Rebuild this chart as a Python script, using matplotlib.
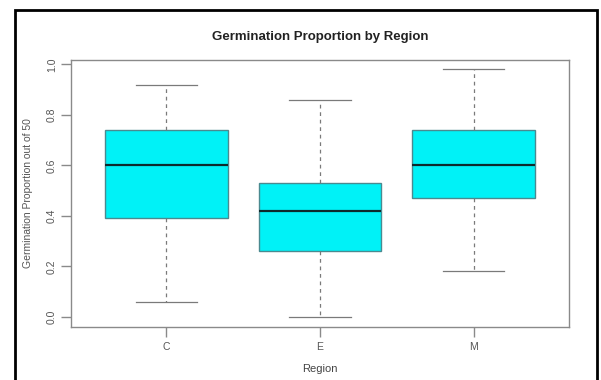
import matplotlib
matplotlib.use("Agg")
import matplotlib.pyplot as plt
from matplotlib.patches import Rectangle

plt.rcParams['font.family'] = ['Liberation Sans', 'DejaVu Sans']

regions = ["C", "E", "M"]
whisker_low = [0.06, 0.00, 0.18]
q1 = [0.39, 0.26, 0.47]
median = [0.60, 0.42, 0.60]
q3 = [0.74, 0.53, 0.74]
whisker_high = [0.92, 0.86, 0.98]
y_ticks = [0.0, 0.2, 0.4, 0.6, 0.8, 1.0]

W, H = 601, 380
fig = plt.figure(figsize=(W / 100, H / 100), dpi=100)
fig.patch.set_facecolor("white")

# outer frame around the figure
fig.patches.append(Rectangle((15 / W, -0.05), (597 - 15) / W, (H - 10) / H + 0.05,
                             transform=fig.transFigure, fill=False,
                             edgecolor="black", linewidth=2.0, zorder=10))

left, right, top, bottom = 71, 569, 59.5, 326.7
ax = fig.add_axes([left / W, (H - bottom) / H, (right - left) / W, (bottom - top) / H])

stats = []
for i, r in enumerate(regions):
    stats.append(dict(label=r, whislo=whisker_low[i], q1=q1[i], med=median[i],
                      q3=q3[i], whishi=whisker_high[i], fliers=[]))

edge = "#4a8a90"
grey = "#7a7a7a"
ax.bxp(stats, positions=[1, 2, 3], widths=0.8, patch_artist=True,
       showfliers=False,
       boxprops=dict(facecolor="#00f2f7", edgecolor=edge, linewidth=1.0),
       medianprops=dict(color="#0d2a2c", linewidth=1.6),
       whiskerprops=dict(color=grey, linewidth=0.9, linestyle=(0, (3, 3))),
       capprops=dict(color=grey, linewidth=0.9),
       capwidths=0.4)

lo, hi = min(whisker_low), max(whisker_high)
pad = (hi - lo) * 0.04
ax.set_ylim(lo - pad, hi + pad)
ax.set_xlim(0.38, 3.62)

ax.set_yticks(y_ticks)
ax.set_yticklabels([f"{t:.1f}" for t in y_ticks], rotation=90, va="center")
ax.set_xticks([1, 2, 3])
ax.set_xticklabels(regions)

for s in ax.spines.values():
    s.set_color("#8a8a8a")
    s.set_linewidth(1.0)
ax.tick_params(axis="both", colors="#8a8a8a", labelcolor="#555555",
               length=7, width=1.0, labelsize=7.5, pad=4)
ax.tick_params(axis="y", pad=3)

ax.set_title("Germination Proportion by Region", fontsize=9.5, fontweight="bold",
             color="#222222", pad=14)
ax.set_xlabel("Region", fontsize=8, color="#444444", labelpad=9)
ax.set_ylabel("Germination Proportion out of 50", fontsize=7.5, color="#555555",
              labelpad=10)

fig.savefig("out.png", dpi=100)
